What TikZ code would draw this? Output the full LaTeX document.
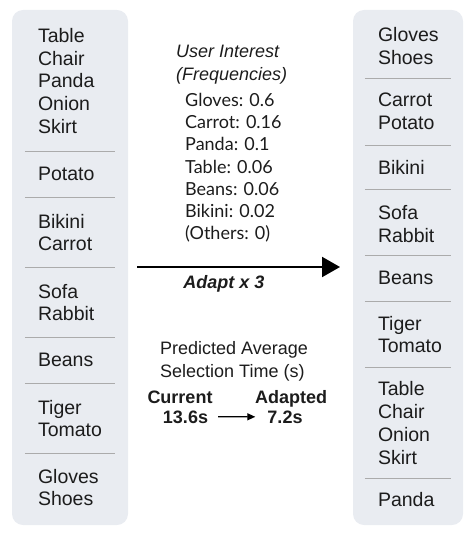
\documentclass[tikz,border=0pt]{standalone}
\usepackage{fontspec}
\setmainfont{Liberation Sans}
\newfontfamily\latofont{Lato}
\usetikzlibrary{arrows.meta}
\definecolor{panelgray}{HTML}{E9ECF1}
\definecolor{sepgray}{HTML}{ABABAB}
\definecolor{ink}{HTML}{1C1C1C}

\begin{document}
\begin{tikzpicture}[x=1pt,y=-1pt,>=Latex,text=ink,
  panel/.style={fill=panelgray,draw=none,rounded corners=11pt,minimum width=#1,minimum height=515pt,inner sep=0pt},
  lcell/.style={align=left,text width=64pt,inner xsep=13pt,inner ysep=0pt,minimum height=#1,font=\fontsize{19.5}{22.8}\selectfont},
  rcell/.style={align=left,text width=60pt,inner xsep=13pt,inner ysep=0pt,minimum height=#1,font=\fontsize{19.5}{22.8}\selectfont},
  sep/.style={draw=sepgray,line width=0.9pt},
  midtext/.style={inner sep=0pt,align=left,font=\fontsize{18}{23}\selectfont},
  boldtext/.style={inner sep=0pt,anchor=base,font=\fontsize{18}{23}\selectfont\bfseries}]
\useasboundingbox (0,0) rectangle (474,534);

% the two lists
\node[panel=116pt] (lpanel) at (70,267.5) {};
\node[panel=110pt] (rpanel) at (408,267.5) {};

\node[lcell=140pt] (l1) at (70,81) {Table\\Chair\\Panda\\Onion\\Skirt};
\node[lcell=47pt] (l2) at (70,173.5) {Potato};
\node[lcell=69pt] (l3) at (70,232.5) {Bikini\\Carrot};
\node[lcell=69pt] (l4) at (70,302.5) {Sofa\\Rabbit};
\node[lcell=46pt] (l5) at (70,360) {Beans};
\node[lcell=69pt] (l6) at (70,418.5) {Tiger\\Tomato};
\node[lcell=70pt] (l7) at (70,487.5) {Gloves\\Shoes};
\draw[sep] (l1.south west) -- (l1.south east);
\draw[sep] (l2.south west) -- (l2.south east);
\draw[sep] (l3.south west) -- (l3.south east);
\draw[sep] (l4.south west) -- (l4.south east);
\draw[sep] (l5.south west) -- (l5.south east);
\draw[sep] (l6.south west) -- (l6.south east);

\node[rcell=64pt] (r1) at (408,46) {Gloves\\Shoes};
\node[rcell=68pt] (r2) at (408,111) {Carrot\\Potato};
\node[rcell=44pt] (r3) at (408,167) {Bikini};
\node[rcell=62pt] (r4) at (408,224) {Sofa\\Rabbit};
\node[rcell=46pt] (r5) at (408,278) {Beans};
\node[rcell=65pt] (r6) at (408,334.5) {Tiger\\Tomato};
\node[rcell=110pt] (r7) at (408,423) {Table\\Chair\\Onion\\Skirt};
\node[rcell=46pt] (r8) at (408,500) {Panda};
\draw[sep] (r1.south west) -- (r1.south east);
\draw[sep] (r2.south west) -- (r2.south east);
\draw[sep] (r3.south west) -- (r3.south east);
\draw[sep] (r4.south west) -- (r4.south east);
\draw[sep] (r5.south west) -- (r5.south east);
\draw[sep] (r6.south west) -- (r6.south east);
\draw[sep] (r7.south west) -- (r7.south east);

% user interest
\node[midtext,anchor=north west,font=\fontsize{18}{23}\selectfont\itshape] (uihead) at (176,45) {User Interest\\(Frequencies)};
\node[midtext,anchor=north west,font=\fontsize{18}{22.2}\latofont] (freqs) at (185,93) {Gloves: 0.6\\Carrot: 0.16\\Panda: 0.1\\Table: 0.06\\Beans: 0.06\\Bikini: 0.02\\(Others: 0)};

% adaptation arrow
\coordinate (ain) at (137,267);
\coordinate (aout) at (340,267);
\draw[line width=2pt,-{Triangle[length=18pt,width=20pt]}] (ain) -- (aout);
\node[boldtext,font=\fontsize{18}{23}\selectfont\bfseries\itshape] (adapt) at (224,288) {Adapt x 3};

% selection time
\node[midtext,anchor=north west] (predhead) at (160,341) {Predicted Average\\Selection Time (s)};
\node[boldtext] (curhead) at (180,403) {Current};
\node[boldtext] (curval) at (185.5,423) {13.6s};
\node[boldtext] (adhead) at (291,403) {Adapted};
\node[boldtext] (adval) at (285,423) {7.2s};
\draw[line width=1.3pt,-{Triangle[length=8pt,width=7pt]},shorten <=10pt,shorten >=12pt] (curval) -- (adval);
\end{tikzpicture}
\end{document}
